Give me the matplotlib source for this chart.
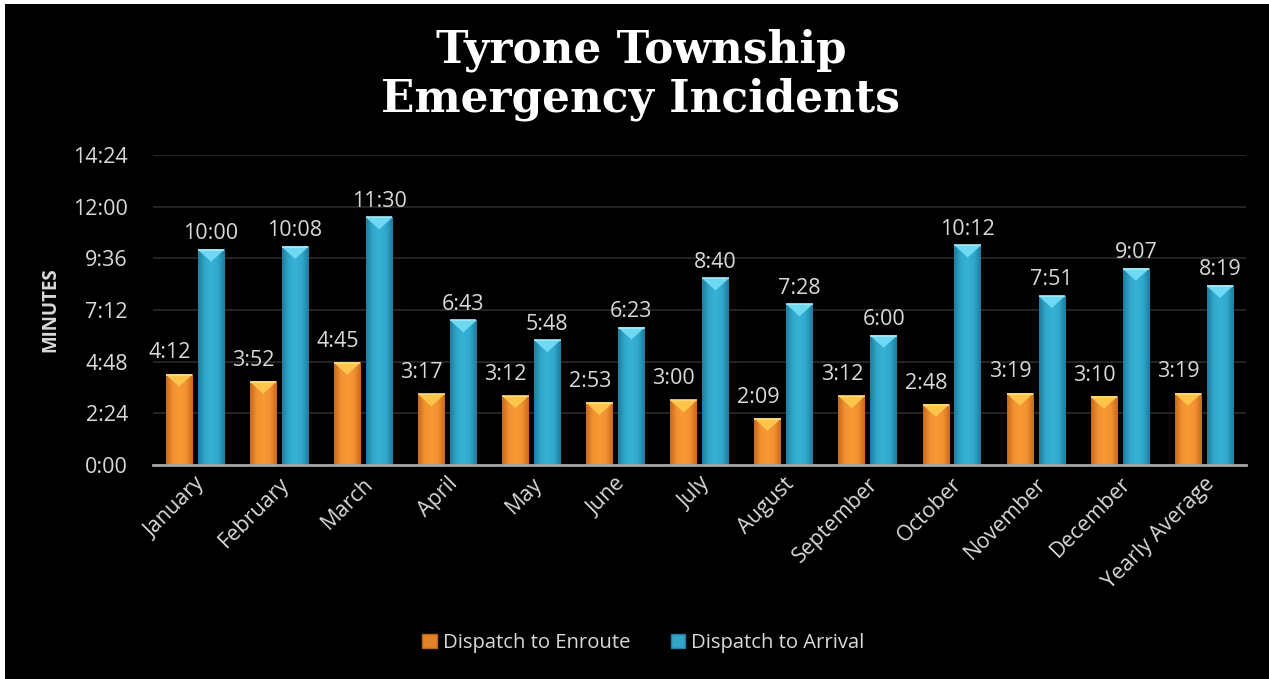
import numpy as np
import matplotlib
matplotlib.use("Agg")
from matplotlib import pyplot as plt
from matplotlib.patches import Polygon, Rectangle
from matplotlib.colors import LinearSegmentedColormap

# data (seconds)
months = ["January", "February", "March", "April", "May", "June", "July",
          "August", "September", "October", "November", "December", "Yearly Average"]
enroute = [252, 232, 285, 197, 192, 173, 180, 129, 192, 168, 199, 190, 199]
arrival = [600, 608, 690, 403, 348, 383, 520, 448, 360, 612, 471, 547, 499]
y_ticks = [0, 144, 288, 432, 576, 720, 864]
series_names = ["Dispatch to Enroute", "Dispatch to Arrival"]


def mmss(s):
    return f"{int(s) // 60}:{int(s) % 60:02d}"


plt.rcParams['font.family'] = ['Open Sans', 'DejaVu Sans']
txt = "#D9D9D9"

fig = plt.figure(figsize=(12.69, 6.79), dpi=100)
fig.patch.set_facecolor("white")
# black panel (white strip on left/top like the source)
fig.patches.append(Rectangle((5 / 1269, 0), 1, 1 - 4 / 679, transform=fig.transFigure,
                             facecolor="black", edgecolor="none", zorder=-5))

ax = fig.add_axes([153 / 1269, 1 - 465 / 679, 1093 / 1269, 310 / 679])
ax.set_facecolor("black")

orange_cm = LinearSegmentedColormap.from_list("o", ["#C9681A", "#F39232", "#F89A36", "#F39232", "#C9681A"])
blue_cm = LinearSegmentedColormap.from_list("b", ["#1F7C9E", "#30A8CC", "#36B2D6", "#30A8CC", "#1F7C9E"])
grad = np.linspace(0, 1, 64).reshape(1, -1)

x = np.arange(len(months))
w = 0.315
off = 0.19
bevel = 12 / 310 * 864  # bevel height in data units (~12 px)


def draw_bars(xs, vals, cmap, top_col, edge_col):
    for xc, v in zip(xs, vals):
        x0, x1 = xc - w / 2, xc + w / 2
        ax.imshow(grad, extent=[x0, x1, 0, v], aspect="auto", cmap=cmap, zorder=2,
                  interpolation="bicubic")
        ax.add_patch(Polygon([[x0, v], [x1, v], [xc, v - bevel]], closed=True,
                             facecolor=top_col, edgecolor="none", zorder=3))
        ax.plot([x0, x1], [v, v], color=edge_col, lw=1.2, zorder=4, solid_capstyle="butt")


draw_bars(x - off, enroute, orange_cm, "#FFC54A", "#FFE07A")
draw_bars(x + off, arrival, blue_cm, "#6FD8F2", "#A8ECFA")

fs = 15.5
for xc, v in zip(x - off, enroute):
    ax.annotate(mmss(v), (xc, v), xytext=(-7, 8), textcoords="offset points",
                ha="center", va="bottom", color=txt, fontsize=fs)
for xc, v in zip(x + off, arrival):
    ax.annotate(mmss(v), (xc, v), xytext=(0, 4), textcoords="offset points",
                ha="center", va="bottom", color=txt, fontsize=fs)

ax.set_xlim(-0.5, len(months) - 0.5)
ax.set_ylim(0, 864)
ax.set_yticks(y_ticks)
ax.set_yticklabels([mmss(t) for t in y_ticks])
ax.yaxis.grid(True, color="#2B2B2B", lw=1.2)
ax.set_axisbelow(True)
ax.set_xticks(x)
ax.set_xticklabels(months, rotation=45, ha="right", rotation_mode="anchor")
ax.tick_params(axis="both", length=0, colors=txt, labelsize=fs)
ax.tick_params(axis="y", pad=18)
ax.tick_params(axis="x", pad=6)
for s in ["top", "right", "left"]:
    ax.spines[s].set_visible(False)
ax.spines["bottom"].set_color("#A6A6A6")
ax.spines["bottom"].set_linewidth(2)
ax.spines["bottom"].set_zorder(5)

ax.set_ylabel("MINUTES", color=txt, fontsize=13.5, fontweight="bold")
ax.yaxis.set_label_coords(-0.085, 0.5)

fig.text(0.505, 1 - 50 / 679, "Tyrone Township", ha="center", va="center",
         color="white", fontsize=31.5, fontweight="bold", family="DejaVu Serif")
fig.text(0.505, 1 - 99 / 679, "Emergency Incidents", ha="center", va="center",
         color="white", fontsize=31.5, fontweight="bold", family="DejaVu Serif")

# legend
h1 = Rectangle((0, 0), 1, 1, facecolor="#E38428", edgecolor="#B86418")
h2 = Rectangle((0, 0), 1, 1, facecolor="#33A6C8", edgecolor="#1F7C9E")
leg = fig.legend([h1, h2], series_names, loc="center", bbox_to_anchor=(0.507, 1 - 643 / 679),
                 ncol=2, frameon=False, fontsize=14.6, handlelength=0.7, handleheight=0.7,
                 handletextpad=0.3, columnspacing=2.0)
for t in leg.get_texts():
    t.set_color(txt)

fig.savefig("out.png", dpi=100, facecolor=fig.get_facecolor())
